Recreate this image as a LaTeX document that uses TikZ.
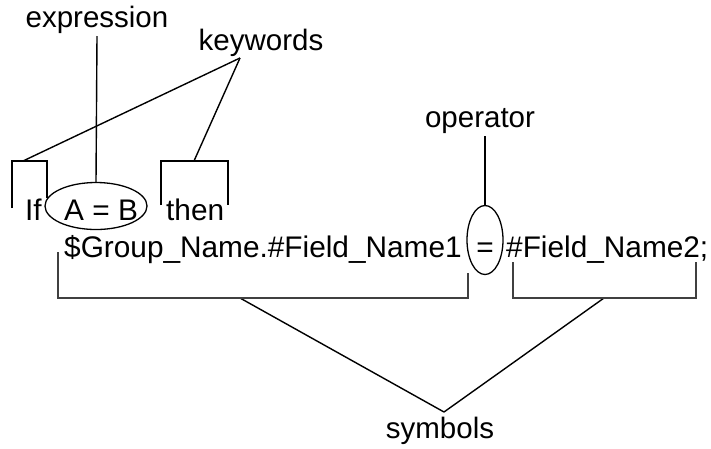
\documentclass[tikz,border=0pt]{standalone}
\usepackage{fontspec}
\setmainfont{Liberation Sans}
\usetikzlibrary{shapes.geometric}
\begin{document}
\begin{tikzpicture}[x=1pt,y=-1pt,
  txt/.style={inner sep=0pt,font=\fontsize{29.8}{34}\selectfont},
  lbl/.style={inner sep=0pt,font=\fontsize{29.5}{34}\selectfont,anchor=base},
  ring/.style={draw,ellipse,inner sep=0pt,line width=1.3pt},
  ln/.style={line width=1.4pt,black},
  brk/.style={line width=1.8pt,black!75}]
\useasboundingbox[fill=white] (0,0) rectangle (711,448);
% labels
\node[lbl] (expression) at (97,27) {expression};
\node[lbl] (keywords) at (261,50) {keywords};
\node[lbl] (operator) at (480,127) {operator};
\node[lbl] (symbols) at (440,438) {symbols};
% code text
\node[txt,anchor=base west] (if) at (25,220) {If};
\node[txt,anchor=base west] (ab) at (64,220) {A = B};
\node[txt,anchor=base west] (then) at (166,220) {then};
\node[txt,anchor=base west] (grp) at (64,257) {\$Group\_Name.\#Field\_Name1};
\node[txt,anchor=base] (eq) at (485,257) {=};
\node[txt,anchor=base west] (fld) at (506,257) {\#Field\_Name2;};
% ellipses
\node[ring,minimum width=102pt,minimum height=47pt] (exprell) at (96,206) {};
\node[ring,minimum width=36pt,minimum height=69pt] (opell) at (485,240) {};
% coordinates
\coordinate (kwapex) at (240,58);
\coordinate (kwIf) at (23,161);
\coordinate (kwThen) at (194,161);
\coordinate (exprtop) at (97,36);
\coordinate (optop) at (485,136);
\coordinate (symapex) at (444,412);
\coordinate (symL) at (240,298);
\coordinate (symR) at (604,298);
% connectors
\draw[ln] (exprtop) -- (exprell.north);
\draw[ln] (optop) -- (opell.north);
\draw[ln] (kwapex) -- (kwIf);
\draw[ln] (kwapex) -- (kwThen);
\draw[ln] (symapex) -- (symL);
\draw[ln] (symapex) -- (symR);
% brackets
\draw[ln] (12,208) -- (12,161) -- (47,161) -- (47,198);
\draw[ln] (161,205) -- (161,161) -- (228,161) -- (228,205);
\draw[brk] (58,252) -- (58,298) -- (468,298) -- (468,273);
\draw[brk] (513,262) -- (513,298) -- (696,298) -- (696,262);
\end{tikzpicture}
\end{document}
